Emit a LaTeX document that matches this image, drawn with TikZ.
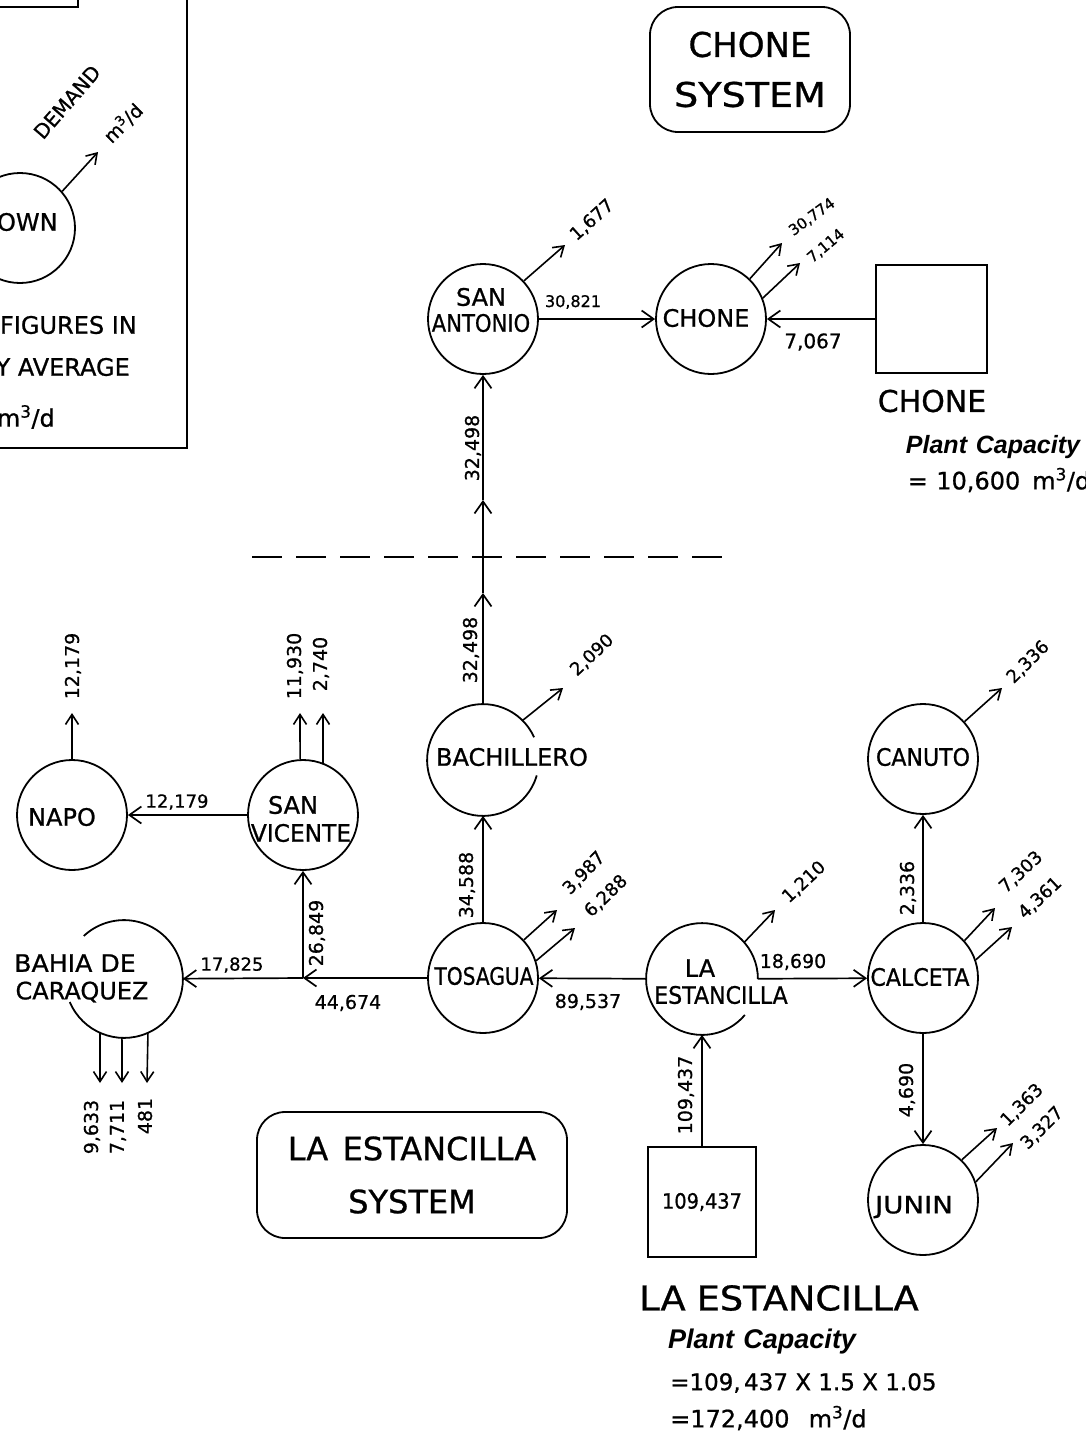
\documentclass[tikz,border=0pt]{standalone}
\usepackage{fontspec}
\setmainfont{DejaVu Sans}[FakeBold=0.8]
\newfontfamily\capfont{Liberation Sans}
\usepackage{graphicx}
\usetikzlibrary{arrows.meta}
\newcommand{\fsz}[2]{\fontsize{#1}{#2}\selectfont}
\newcommand{\hsq}[2]{\scalebox{#1}[1]{#2}}
\begin{document}
\begin{tikzpicture}[x=1pt,y=1pt,
  town/.style={circle, draw, line width=1.8pt, minimum size=110pt, inner sep=0pt},
  gtown/.style={town, draw=none},
  tname/.style={inner sep=0pt, font=\fsz{24}{26}},
  plantbox/.style={rectangle, draw, line width=1.8pt, inner sep=0pt},
  flow/.style={line width=1.7pt, -{Straight Barb[length=12pt,width=17pt,line width=1.7pt]}},
  dem/.style={line width=1.6pt, -{Straight Barb[length=10pt,width=13pt,line width=1.6pt]}},
  num/.style={inner sep=0pt, font=\fsz{19}{21}},
  vnum/.style={num, rotate=90},
  dnum/.style={inner sep=0pt, font=\fsz{18}{20}},
  sysbox/.style={rectangle, rounded corners=28pt, draw, line width=1.8pt, align=center},
  bigtext/.style={inner sep=0pt},
  gap/.style={line width=1.8pt},
]
\useasboundingbox (0,0) rectangle (1086,-1441);
\clip (0,0) rectangle (1086,-1441);

% ---------------- legend (cut at the page edge)
\draw[line width=1.8pt] (-10,10) rectangle (78,-7);
\draw[line width=1.8pt] (-10,10) rectangle (187,-448);
\node[town] (leg) at (20,-228) {};
\node[tname] (legt) at (20,-222) {TOWN};
\coordinate (lege) at (98,-152);
\draw[dem] (leg.41.5) -- (lege);
\node[inner sep=0pt, rotate=49, font=\fsz{20}{22}] (legd) at (67,-102) {DEMAND};
\node[inner sep=0pt, rotate=45, font=\fsz{19}{21}] (legu) at (123,-123) {m\textsuperscript{3}/d};
\node[inner sep=0pt, anchor=east, font=\fsz{24}{26}] (legl1) at (137,-325) {FIGURES IN};
\node[inner sep=0pt, anchor=east, font=\fsz{24}{26}] (legl2) at (130,-367) {DAILY AVERAGE};
\node[inner sep=0pt, anchor=east, font=\fsz{24}{26}] (legl3) at (55,-417) {m\textsuperscript{3}/d};

% ---------------- system boxes
\node[sysbox, minimum width=200pt, minimum height=125pt, font=\fsz{34}{50}] (csys) at (750,-69.5) {CHONE\\\hsq{1.12}{SYSTEM}};
\node[sysbox, minimum width=310pt, minimum height=126pt, font=\fsz{32}{53}] (lsys) at (412,-1175) {LA\hspace{0.45em}ESTANCILLA\\SYSTEM};

% ---------------- towns
\node[town] (sa) at (483,-319) {};
\node[tname, align=center] (sat) at (481,-310) {SAN\\\hsq{0.88}{ANTONIO}};
\node[town] (chone) at (711,-319) {};
\node[tname] (chonet) at (706,-318) {CHONE};
\node[gtown] (bach) at (483,-760) {};
\draw[gap] (bach.24) arc[start angle=24, end angle=344, radius=55.9pt];
\node[tname] (bacht) at (512,-757) {\hsq{1.0}{BACHILLERO}};
\node[town] (tos) at (483,-978) {};
\node[tname] (tost) at (484,-976) {\hsq{0.84}{TOSAGUA}};
\node[gtown] (le) at (702,-979) {};
\draw[gap] (le.0) arc[start angle=0, end angle=320, radius=55.9pt];
\node[tname] (let1) at (700,-968) {LA};
\node[tname] (let2) at (721,-995) {\hsq{0.92}{ESTANCILLA}};
\node[town] (calc) at (923,-978) {};
\node[tname] (calct) at (920,-977) {\hsq{0.92}{CALCETA}};
\node[town] (canuto) at (923,-759) {};
\node[tname] (canutot) at (923,-757) {\hsq{0.92}{CANUTO}};
\node[town] (junin) at (923,-1200) {};
\node[tname] (junint) at (914,-1207) {\hsq{1.15}{JUNIN}};
\node[town] (napo) at (72,-815) {};
\node[tname] (napot) at (62,-817) {NAPO};
\node[town] (sv) at (303,-815) {};
\node[tname] (svt1) at (293,-805) {SAN};
\node[tname] (svt2) at (301,-833) {\hsq{0.97}{VICENTE}};
\node[gtown, minimum size=116pt] (bahia) at (124,-979) {};
\draw[gap] (bahia.-157) arc[start angle=-157, end angle=133, radius=58.9pt];
\node[tname] (baht1) at (75,-963) {\hsq{1.05}{BAHIA DE}};
\node[tname] (baht2) at (82,-992) {CARAQUEZ};

% ---------------- plants
\node[plantbox, minimum width=111pt, minimum height=108pt] (cplant) at (931.5,-319) {};
\node[plantbox, minimum width=108pt, minimum height=110pt, font=\fsz{21}{23}] (leplant) at (702,-1202) {\hsq{0.92}{109,437}};

\node[bigtext, font=\fsz{30}{32}] (cplt) at (932,-401) {CHONE};
\node[bigtext, font=\capfont\bfseries\itshape\fsz{25}{27}] (cplc) at (993,-447) {Plant\hspace{0.35em}Capacity};
\node[bigtext, font=\fsz{24}{26}] (cplv) at (999,-480) {=\hspace{0.35em}10,600\hspace{0.5em}m\textsuperscript{3}/d};

\node[bigtext, font=\fsz{34}{36}] (lplt) at (779,-1298) {\hsq{1.08}{LA\hspace{0.3em}ESTANCILLA}};
\node[bigtext, font=\capfont\bfseries\itshape\fsz{27}{29}] (lplc) at (762,-1342) {Plant\hspace{0.35em}Capacity};
\node[bigtext, anchor=west, font=\fsz{23}{25}] (lplv1) at (670,-1383) {=109,\hspace{0.15em}437 X 1.5 X 1.05};
\node[bigtext, anchor=west, font=\fsz{24}{26}] (lplv2) at (670,-1418) {=172,400\hspace{0.8em}m\textsuperscript{3}/d};

% ---------------- system divider
\coordinate (dl1) at (252,-557);
\coordinate (dl2) at (723,-557);
\draw[line width=1.7pt, dash pattern=on 30pt off 14pt] (dl1) -- (dl2);

% ---------------- flows
\coordinate (b1) at (483,-593);
\coordinate (b2) at (483,-500);
\coordinate (jn) at (303,-978);
\draw[flow] (sa) -- (chone);
\draw[flow] (cplant) -- (chone);
\draw[flow] (bach) -- (b1);
\draw[flow] (b1) -- (b2);
\draw[flow] (b2) -- (sa);
\draw[flow] (tos) -- (bach);
\draw[flow] (le) -- (tos);
\draw[flow] (le) -- (calc);
\draw[flow] (calc) -- (canuto);
\draw[flow] (calc) -- (junin);
\draw[flow] (leplant) -- (le);
\draw[flow] (tos) -- (jn);
\draw[flow] (jn) -- (bahia);
\draw[flow] (jn) -- (sv);
\draw[flow] (sv) -- (napo);

\node[num, font=\fsz{16}{18}] (l1) at (573,-302) {30,821};
\node[num, font=\fsz{20}{22}] (l2) at (813,-342) {7,067};
\node[num, font=\fsz{18}{20}] (l3) at (177,-802) {12,179};
\node[num, font=\fsz{18}{20}] (l4) at (232,-965) {17,825};
\node[num] (l5) at (348,-1003) {44,674};
\node[num] (l6) at (588,-1002) {89,537};
\node[num] (l7) at (793,-962) {18,690};
\node[vnum] (l8) at (473,-448) {32,498};
\node[vnum] (l9) at (471,-650) {32,498};
\node[vnum] (l10) at (467,-885) {34,588};
\node[vnum] (l11) at (908,-888) {2,336};
\node[vnum] (l12) at (907,-1090) {4,690};
\node[vnum] (l13) at (686,-1095) {109,437};
\node[vnum] (l14) at (317,-933) {26,849};

% ---------------- demands
\coordinate (d1) at (565,-245);
\draw[dem] (sa.43) -- (d1);
\node[dnum, rotate=42] (dl1t) at (592,-220) {1,677};
\coordinate (d2) at (782,-243);
\coordinate (d3) at (800,-263);
\draw[dem] (chone.46) -- (d2);
\draw[dem] (chone.22) -- (d3);
\node[dnum, rotate=36, font=\fsz{15}{17}] (dl2t) at (812,-217) {30,774};
\node[dnum, rotate=40, font=\fsz{15}{17}] (dl3t) at (826,-246) {7,114};
\coordinate (d4) at (563,-688);
\draw[dem] (bach.45) -- (d4);
\node[dnum, rotate=43] (dl4t) at (592,-655) {2,090};
\coordinate (d5) at (557,-910);
\coordinate (d6) at (575,-928);
\draw[dem] (tos.43) -- (d5);
\draw[dem] (tos.18) -- (d6);
\node[dnum, rotate=46] (dl5t) at (584,-873) {3,987};
\node[dnum, rotate=44] (dl6t) at (606,-896) {6,288};
\coordinate (d7) at (775,-910);
\draw[dem] (le.41) -- (d7);
\node[dnum, rotate=43] (dl7t) at (804,-882) {1,210};
\coordinate (d8) at (1002,-688);
\draw[dem] (canuto.42) -- (d8);
\node[dnum, rotate=45] (dl8t) at (1028,-662) {2,336};
\coordinate (d9) at (995,-908);
\coordinate (d10) at (1012,-927);
\draw[dem] (calc.42) -- (d9);
\draw[dem] (calc.19) -- (d10);
\node[dnum, rotate=43] (dl9t) at (1021,-872) {7,303};
\node[dnum, rotate=43] (dl10t) at (1040,-898) {4,361};
\coordinate (d11) at (997,-1128);
\coordinate (d12) at (1013,-1143);
\draw[dem] (junin.46) -- (d11);
\draw[dem] (junin.19) -- (d12);
\node[dnum, rotate=45] (dl11t) at (1022,-1105) {1,363};
\node[dnum, rotate=45] (dl12t) at (1042,-1128) {3,327};
\coordinate (d13) at (72,-713);
\draw[dem] (napo.north) -- (d13);
\node[vnum] (dl13t) at (73,-666) {12,179};
\coordinate (d14) at (300,-713);
\coordinate (d15) at (323,-713);
\draw[dem] (sv.93) -- (d14);
\draw[dem] (sv.69.5) -- (d15);
\node[vnum] (dl14t) at (295,-666) {11,930};
\node[vnum] (dl15t) at (321,-664) {2,740};
\coordinate (d16) at (100,-1083);
\coordinate (d17) at (122,-1083);
\coordinate (d18) at (147,-1083);
\draw[dem] (bahia.-114.4) -- (d16);
\draw[dem] (bahia.-92) -- (d17);
\draw[dem] (bahia.-66.6) -- (d18);
\node[vnum] (dl16t) at (92,-1127) {9,633};
\node[vnum] (dl17t) at (118,-1127) {7,711};
\node[vnum] (dl18t) at (145,-1116) {481};
\end{tikzpicture}
\end{document}
